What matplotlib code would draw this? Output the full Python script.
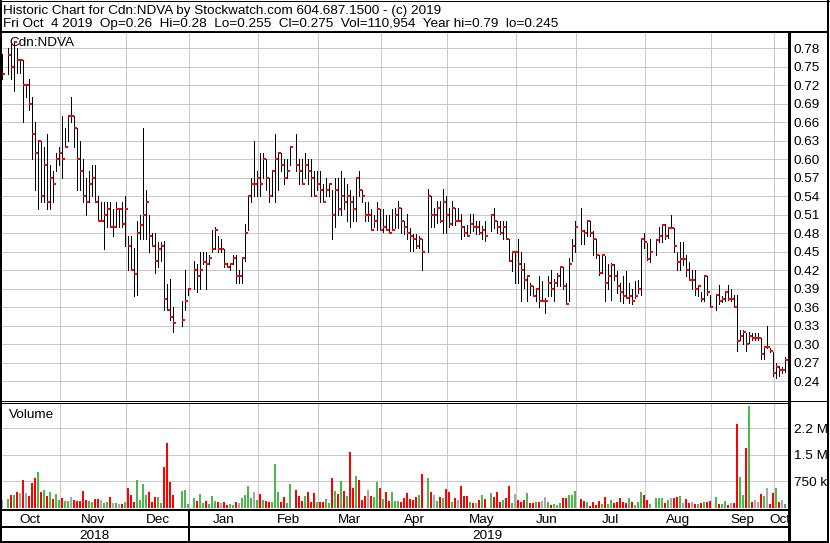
import matplotlib
matplotlib.use("Agg")
import matplotlib.pyplot as plt
import numpy as np
import pandas as pd

# ---- data ----
symbol = "Cdn:NDVA"
header1 = "Historic Chart for Cdn:NDVA by Stockwatch.com 604.687.1500 - (c) 2019"
header2 = "Fri Oct  4 2019  Op=0.26  Hi=0.28  Lo=0.255  Cl=0.275  Vol=110,954  Year hi=0.79  lo=0.245"

# one slot per weekday, None = no trading
dates = pd.bdate_range("2018-10-04", "2019-10-04")

high = [
    0.77, None, 0.78, 0.79, 0.79, 0.78, 0.76, 0.76, 0.72, 0.73,
    0.70, 0.66, 0.63, 0.63, 0.62, 0.64, 0.59, 0.58, 0.61, 0.62,
    0.67, 0.65, 0.67, 0.70, 0.67, 0.65, 0.63, 0.60, 0.57, 0.58,
    0.59, 0.59, 0.54, 0.53, 0.53, 0.53, 0.53, 0.52, 0.53, 0.52,
    0.53, 0.54, 0.475, 0.475, 0.456, 0.50, 0.51, 0.65, 0.55, 0.51,
    0.48, 0.48, 0.465, 0.465, 0.467, 0.397, 0.406, 0.36, None, None,
    0.37, 0.42, 0.39, None, 0.435, 0.43, 0.45, 0.45, 0.45, 0.445,
    0.486, 0.49, 0.475, 0.47, 0.455, 0.432, 0.43, 0.445, 0.445, 0.42,
    0.44, 0.495, 0.54, 0.57, 0.63, 0.58, 0.61, 0.61, 0.60, 0.57,
    0.58, 0.64, 0.61, 0.61, 0.60, 0.60, 0.62, None, 0.64, 0.60,
    0.60, 0.61, 0.60, 0.60, 0.58, 0.58, 0.58, 0.56, 0.57, 0.56,
    0.55, 0.57, 0.57, 0.58, 0.57, 0.56, 0.55, 0.54, 0.57, 0.58,
    0.55, 0.53, 0.53, 0.52, 0.51, 0.53, 0.52, 0.52, 0.51, 0.51,
    0.52, 0.521, 0.532, 0.521, 0.50, 0.511, 0.489, 0.478, 0.478, 0.475,
    0.47, None, 0.551, 0.54, 0.521, 0.532, 0.532, 0.551, 0.54, 0.521,
    0.532, 0.521, 0.521, 0.511, 0.492, 0.494, 0.511, 0.511, 0.50, 0.50,
    0.492, 0.50, None, 0.511, 0.521, 0.50, 0.50, 0.50, 0.50, 0.47,
    0.451, 0.451, 0.47, 0.45, 0.431, 0.413, 0.40, 0.394, 0.39, 0.41,
    0.402, 0.375, 0.411, 0.421, 0.406, 0.416, 0.425, 0.425, 0.40, 0.44,
    0.471, 0.50, None, 0.521, 0.485, 0.50, 0.50, 0.483, 0.47, 0.444,
    0.445, 0.443, 0.43, 0.431, 0.43, 0.419, 0.40, 0.41, 0.418, 0.40,
    0.39, 0.402, 0.405, 0.47, 0.48, 0.464, 0.47, None, 0.47, 0.49,
    0.495, 0.495, 0.49, 0.51, 0.489, 0.45, 0.466, 0.466, 0.445, 0.434,
    0.42, 0.42, 0.395, 0.384, 0.41, 0.41, 0.38, None, 0.38, 0.396,
    0.378, 0.384, 0.396, 0.39, 0.38, 0.38, 0.324, 0.324, 0.318, 0.32,
    0.319, 0.319, 0.319, 0.31, 0.296, 0.33, 0.294, 0.287, 0.27, 0.265,
    0.264, 0.28,
]

low = [
    0.73, None, 0.738, 0.73, 0.71, 0.74, 0.74, 0.66, 0.70, 0.68,
    0.60, 0.55, 0.52, 0.53, 0.53, 0.52, 0.52, 0.53, 0.58, 0.59,
    0.57, 0.62, 0.63, 0.66, 0.62, 0.55, 0.55, 0.53, 0.51, 0.53,
    0.54, 0.53, 0.50, 0.50, 0.455, 0.49, 0.49, 0.475, 0.49, 0.49,
    0.49, 0.46, 0.42, 0.42, 0.378, 0.38, 0.47, 0.47, 0.47, 0.45,
    0.46, 0.415, 0.425, 0.435, 0.355, 0.355, 0.34, 0.32, None, None,
    0.33, 0.355, 0.38, None, 0.39, 0.385, 0.39, 0.43, 0.39, 0.43,
    0.45, 0.455, 0.45, 0.45, 0.425, 0.425, 0.42, 0.43, 0.40, 0.40,
    0.40, 0.435, 0.486, 0.53, 0.54, 0.54, 0.54, 0.57, 0.55, 0.53,
    0.54, 0.53, 0.55, 0.58, 0.56, 0.57, 0.59, None, 0.58, 0.56,
    0.56, 0.57, 0.56, 0.54, 0.54, 0.55, 0.53, 0.53, 0.54, 0.54,
    0.47, 0.49, 0.51, 0.51, 0.52, 0.50, 0.49, 0.50, 0.50, 0.54,
    0.53, 0.50, 0.50, 0.486, 0.49, 0.486, 0.486, 0.482, 0.485, 0.48,
    0.486, 0.489, 0.489, 0.481, 0.478, 0.47, 0.451, 0.451, 0.456, 0.456,
    0.421, None, 0.45, 0.49, 0.49, 0.497, 0.498, 0.481, 0.48, 0.49,
    0.494, 0.494, 0.50, 0.47, 0.475, 0.475, 0.481, 0.484, 0.478, 0.478,
    0.47, 0.467, None, 0.484, 0.489, 0.481, 0.478, 0.47, 0.47, 0.435,
    0.419, 0.40, 0.40, 0.37, 0.391, 0.37, 0.38, 0.378, 0.37, 0.36,
    0.37, 0.351, 0.379, 0.379, 0.37, 0.394, 0.394, 0.39, 0.365, 0.37,
    0.435, 0.45, None, 0.462, 0.462, 0.475, 0.475, 0.445, 0.44, 0.413,
    0.415, 0.37, 0.39, 0.372, 0.405, 0.383, 0.37, 0.367, 0.375, 0.367,
    0.366, 0.375, 0.383, 0.38, 0.456, 0.437, 0.434, None, 0.445, 0.466,
    0.465, 0.47, 0.472, 0.488, 0.45, 0.42, 0.42, 0.429, 0.41, 0.405,
    0.39, 0.38, 0.378, 0.37, 0.37, 0.38, 0.36, None, 0.355, 0.366,
    0.368, 0.37, 0.372, 0.37, 0.36, 0.29, 0.307, 0.30, 0.29, 0.302,
    0.307, 0.307, 0.307, 0.276, 0.276, 0.294, 0.288, 0.248, 0.245, 0.248,
    0.254, 0.255,
]

close = [
    0.738, None, 0.769, 0.749, 0.79, 0.76, 0.76, 0.72, 0.72, 0.69,
    0.64, 0.61, 0.63, 0.54, 0.59, 0.53, 0.57, 0.56, 0.60, 0.61,
    0.60, 0.62, 0.67, 0.67, 0.65, 0.60, 0.58, 0.54, 0.53, 0.56,
    0.57, 0.53, 0.50, 0.50, 0.51, 0.52, 0.49, 0.49, 0.52, 0.52,
    0.495, 0.52, 0.46, 0.42, 0.414, 0.48, 0.494, 0.51, 0.53, 0.475,
    0.46, 0.435, 0.455, 0.46, 0.374, 0.355, 0.345, 0.335, None, None,
    0.34, 0.37, 0.389, None, 0.42, 0.41, 0.42, 0.434, 0.43, 0.44,
    0.455, 0.485, 0.455, 0.455, 0.43, 0.425, 0.43, 0.44, 0.41, 0.41,
    0.44, 0.48, 0.54, 0.56, 0.56, 0.57, 0.56, 0.60, 0.57, 0.54,
    0.58, 0.60, 0.61, 0.59, 0.57, 0.58, 0.62, None, 0.59, 0.58,
    0.56, 0.59, 0.58, 0.57, 0.54, 0.56, 0.55, 0.53, 0.55, 0.56,
    0.51, 0.55, 0.52, 0.54, 0.53, 0.54, 0.53, 0.52, 0.57, 0.55,
    0.54, 0.51, 0.51, 0.486, 0.50, 0.52, 0.486, 0.49, 0.486, 0.48,
    0.486, 0.509, 0.521, 0.50, 0.49, 0.481, 0.475, 0.47, 0.46, 0.47,
    0.45, None, 0.54, 0.509, 0.509, 0.521, 0.50, 0.53, 0.509, 0.495,
    0.521, 0.50, 0.50, 0.49, 0.481, 0.475, 0.495, 0.49, 0.49, 0.481,
    0.485, 0.475, None, 0.509, 0.50, 0.49, 0.481, 0.49, 0.47, 0.435,
    0.45, 0.45, 0.43, 0.42, 0.405, 0.41, 0.395, 0.379, 0.39, 0.37,
    0.37, 0.37, 0.40, 0.39, 0.40, 0.41, 0.425, 0.395, 0.365, 0.43,
    0.46, 0.49, None, 0.484, 0.48, 0.50, 0.48, 0.47, 0.444, 0.415,
    0.444, 0.40, 0.41, 0.429, 0.41, 0.395, 0.384, 0.379, 0.375, 0.379,
    0.37, 0.379, 0.39, 0.47, 0.465, 0.439, 0.449, None, 0.469, 0.475,
    0.494, 0.475, 0.489, 0.489, 0.46, 0.434, 0.439, 0.439, 0.42, 0.405,
    0.405, 0.39, 0.395, 0.374, 0.41, 0.384, 0.36, None, 0.38, 0.37,
    0.374, 0.384, 0.374, 0.374, 0.36, 0.305, 0.314, 0.32, 0.30, 0.314,
    0.31, 0.31, 0.31, 0.285, 0.295, 0.295, 0.29, 0.254, 0.264, 0.259,
    0.259, 0.275,
]

# daily volume, thousands of shares
volume_k = [
    214, None, 234, 360, 360, 429, 409, 779, 409, 331,
    682, 847, 993, 438, 497, 331, 438, 234, 390, 214,
    263, 185, 185, 292, 214, 185, 185, 477, 214, 195,
    166, 234, 234, 214, 136, 146, 292, 117, 117, 97,
    97, 156, 555, 360, 146, 779, 214, 653, 360, 438,
    166, 292, 292, 136, 1140, 1821, 730, 360, None, None,
    477, 506, 97, None, 263, 175, 380, 117, 195, 97,
    321, 185, 146, 117, 166, 68, 97, 68, 166, 117,
    263, 360, 604, 263, 438, 214, 380, 214, 195, 146,
    166, 1237, 438, 146, 292, 117, 653, None, 506, 331,
    195, 331, 438, 146, 409, 146, 146, 146, 234, 117,
    828, 458, 380, 750, 458, 331, 1578, 555, 906, 769,
    214, 312, 506, 312, 292, 730, 555, 234, 438, 195,
    438, 185, 185, 166, 263, 409, 234, 214, 292, 360,
    945, None, 847, 438, 360, 185, 292, 263, 526, 438,
    156, 263, 214, 623, 312, 312, 166, 117, 117, 214,
    360, 234, None, 409, 292, 438, 166, 214, 263, 623,
    117, 380, 214, 166, 214, 409, 136, 136, 146, 166,
    185, 292, 146, 68, 97, 68, 117, 263, 263, 360,
    360, 477, None, 234, 185, 146, 49, 146, 68, 195,
    97, 292, 97, 214, 117, 146, 263, 146, 117, 263,
    146, 68, 166, 438, 360, 214, 97, None, 263, 263,
    263, 117, 214, 263, 263, 292, 312, 117, 234, 117,
    166, 97, 97, 117, 146, 166, 185, None, 292, 97,
    97, 185, 68, 117, 117, 2357, 877, 360, 1695, 2873,
    146, 214, 146, 390, 312, 555, 88, 409, 555, 166,
    214, 111,
]

price_ticks = [0.24, 0.27, 0.30, 0.33, 0.36, 0.39, 0.42, 0.45, 0.48, 0.51,
               0.54, 0.57, 0.60, 0.63, 0.66, 0.69, 0.72, 0.75, 0.78]
vol_ticks = [750, 1500, 2250]
vol_tick_labels = ["750 k", "1.5 M", "2.2 M"]

# ---- styling ----
plt.rcParams['font.family'] = ['Liberation Sans Narrow', 'Liberation Sans', 'DejaVu Sans']
FS = 9.7
GRID = '#c8c8c8'
RED = '#ff0000'
GREEN = '#4cb84c'
GREY = '#a8a8a8'
PX = 0.72  # one pixel in points at 100 dpi

W, H = 830, 543
fig = plt.figure(figsize=(W / 100, H / 100), dpi=100)


def box(x0, y0, x1, y1, **kw):
    # axes from pixel coordinates (origin top-left)
    return fig.add_axes([x0 / W, 1 - y1 / H, (x1 - x0) / W, (y1 - y0) / H], **kw)


x = np.arange(len(dates))
hi = np.array(high, dtype=float)
lo = np.array(low, dtype=float)
cl = np.array(close, dtype=float)
vol = np.array(volume_k, dtype=float)

prev = pd.Series(cl).ffill().shift(1).to_numpy()
vol_colors = np.where(cl > prev, GREEN, np.where(cl < prev, RED, GREY))

month_start = [i for i in range(1, len(dates)) if dates[i].month != dates[i - 1].month]
bounds = [b - 0.5 for b in month_start]
XL = (-0.6, 262.07)

# ---- price panel ----
ax = box(0, 32, 788, 400.5)
ax.set_xlim(XL)
ax.set_ylim(0.209, 0.806)
ax.vlines(x, lo, hi, color='black', lw=PX, antialiased=False, zorder=3)
ax.hlines(cl, x + 0.2, x + 1.1, color=RED, lw=2 * PX, antialiased=False, zorder=4)
ax.set_yticks(price_ticks)
ax.set_yticklabels([f"{t:.2f}" for t in price_ticks])
ax.set_xticks(bounds)
ax.set_xticklabels([])
ax.yaxis.tick_right()
ax.tick_params(axis='both', length=0)
ax.tick_params(axis='y', pad=4.3, labelsize=FS)
ax.grid(True, color=GRID, lw=PX, antialiased=False)
ax.set_axisbelow(True)
for s in ax.spines.values():
    s.set_visible(False)

# ---- volume panel ----
av = box(0, 402.5, 788, 509)
av.set_xlim(XL)
av.set_ylim(-42, 2972)
av.bar(x, vol, width=0.67, color=vol_colors, linewidth=0, antialiased=False, zorder=3)
av.set_yticks(vol_ticks)
av.set_yticklabels(vol_tick_labels)
av.set_xticks(bounds)
av.set_xticklabels([])
av.yaxis.tick_right()
av.tick_params(axis='both', length=0)
av.tick_params(axis='y', pad=4.3, labelsize=FS)
av.grid(True, color=GRID, lw=PX, antialiased=False)
av.set_axisbelow(True)
for s in av.spines.values():
    s.set_visible(False)

# ---- month / year rows ----
am = box(0, 509, 788, 527)
am.set_xlim(XL)
am.set_ylim(527, 509)
am.axis('off')
starts = [0] + month_start
ends = month_start + [len(dates)]
for s, e in zip(starts, ends):
    am.text((s + e - 1) / 2, 523, dates[s].strftime('%b'), ha='center', va='baseline', fontsize=FS)

ay = box(0, 527, 788, 541.5)
ay.set_xlim(XL)
ay.set_ylim(541.5, 527)
ay.axis('off')
years = pd.Series(x).groupby(dates.year)
year_break = None
for yr, idx in years:
    ay.text((idx.min() + idx.max()) / 2, 539.5, str(yr), ha='center', va='baseline', fontsize=FS)
    if idx.min() > 0:
        year_break = idx.min() - 0.5
for a in (am, ay):
    a.axvline(year_break, color='black', lw=2 * PX, antialiased=False)

# ---- frame, header and panel titles (pixel overlay) ----
ov = fig.add_axes([0, 0, 1, 1], zorder=5)
ov.set_xlim(0, W)
ov.set_ylim(H, 0)
ov.axis('off')


def hl(y, x0, x1, w):
    ov.plot([x0, x1], [y, y], color='black', lw=w * PX, solid_capstyle='butt', antialiased=False)


def vl(xp, y0, y1, w):
    ov.plot([xp, xp], [y0, y1], color='black', lw=w * PX, solid_capstyle='butt', antialiased=False)


hl(0.5, 0, 830, 1)
hl(31.5, 0, 829, 2)
vl(1, 0, 543, 2)
vl(828, 0, 542, 2)
vl(789, 31, 542, 3)
hl(400.5, 0, 828, 1)
hl(402.5, 0, 789, 1)
hl(509.5, 0, 789, 2)
hl(527, 0, 789, 2)
hl(541.5, 0, 829, 2)

ov.text(3, 14, header1, fontsize=FS, va='baseline')
ov.text(3, 27.5, header2, fontsize=FS, va='baseline')
ov.text(9, 46, symbol, fontsize=FS, va='baseline')
ov.text(9, 418, "Volume", fontsize=FS, va='baseline')

fig.savefig("out.png", dpi=100)
